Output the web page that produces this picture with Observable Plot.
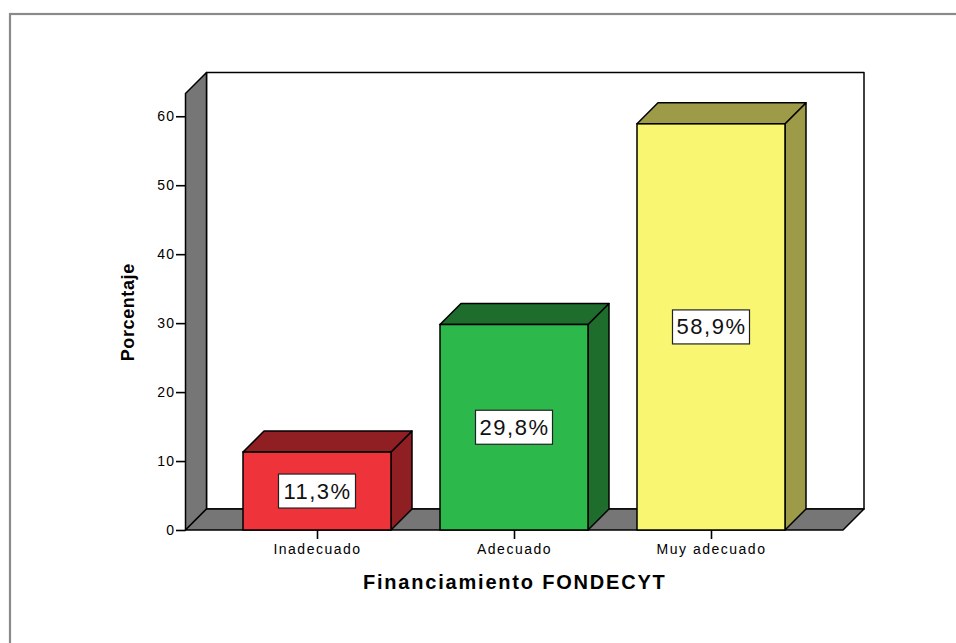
<!DOCTYPE html>
<html><head><meta charset="utf-8">
<script src="https://cdn.jsdelivr.net/npm/d3@7"></script>
<script src="https://cdn.jsdelivr.net/npm/@observablehq/plot@0.6"></script>
<style>
html,body{margin:0;padding:0;background:#fff;}
#chart svg{display:block;}
</style></head><body><div id="chart"></div>
<script>
// ---- data ----
const categories = ["Inadecuado", "Adecuado", "Muy adecuado"];
const percentages = [11.3, 29.8, 58.9];
const valueLabels = ["11,3%", "29,8%", "58,9%"];
const yTicks = [0, 10, 20, 30, 40, 50, 60];
const yMax = 63.3;
const frontColors = ["#EF333A", "#2DB84B", "#F9F672"];
const shadeColors = ["#8F1F22", "#1E6D2D", "#9D9B48"];
const xTitle = "Financiamiento FONDECYT";
const yTitle = "Porcentaje";

const data = categories.map((c, i) => ({
  category: c, value: percentages[i], label: valueLabels[i],
  front: frontColors[i], shade: shadeColors[i]
}));

const DEPTH = 21;
const FONT = "'Liberation Sans', Arial, Helvetica, sans-serif";

function poly(g, pts, fill, sw = 1.5) {
  g.append("polygon")
    .attr("points", pts.map(p => p.join(",")).join(" "))
    .attr("fill", fill).attr("stroke", "#000")
    .attr("stroke-width", sw).attr("stroke-linejoin", "round");
}

// outer frame of the output
const outerFrame = (index, scales, values, dims) => {
  const g = d3.create("svg:g");
  g.append("rect").attr("x", 10).attr("y", 14)
    .attr("width", dims.width + 20).attr("height", dims.height + 20)
    .attr("fill", "none").attr("stroke", "#8a8a8a").attr("stroke-width", 2.2);
  return g.node();
};

// back wall, left wall and floor
const walls = (index, scales, values, dims) => {
  const g = d3.create("svg:g");
  const left = dims.marginLeft, right = dims.width - dims.marginRight;
  const y0 = scales.y(0), yT = scales.y(yMax);
  const D = DEPTH;
  poly(g, [[left + D, yT - D], [right + D, yT - D], [right + D, y0 - D], [left + D, y0 - D]], "#fff");
  poly(g, [[left, y0], [left, yT], [left + D, yT - D], [left + D, y0 - D]], "#767676");
  poly(g, [[left, y0], [right, y0], [right + D, y0 - D], [left + D, y0 - D]], "#767676");
  return g.node();
};

// top and side faces of the bars
const barDepth = (index, scales, values, dims) => {
  const g = d3.create("svg:g");
  const bw = scales.x.bandwidth();
  const y0 = scales.y(0);
  const D = DEPTH;
  data.forEach(d => {
    const x0 = scales.x(d.category), x1 = x0 + bw, yv = scales.y(d.value);
    poly(g, [[x1, y0], [x1, yv], [x1 + D, yv - D], [x1 + D, y0 - D]], d.shade);
    poly(g, [[x0, yv], [x1, yv], [x1 + D, yv - D], [x0 + D, yv - D]], d.shade);
  });
  return g.node();
};

// white boxes behind the value labels
const labelBoxes = (index, scales, values, dims) => {
  const g = d3.create("svg:g");
  const bw = scales.x.bandwidth();
  const W = 77, H = 34;
  data.forEach(d => {
    const cx = scales.x(d.category) + bw / 2, cy = scales.y(d.value / 2);
    g.append("rect").attr("x", cx - W / 2).attr("y", cy - H / 2)
      .attr("width", W).attr("height", H)
      .attr("fill", "#fff").attr("stroke", "#222").attr("stroke-width", 1.2);
  });
  return g.node();
};

const chart = Plot.plot({
  width: 956,
  height: 643,
  marginLeft: 185.5,
  marginRight: 113,
  marginTop: 93.5,
  marginBottom: 113,
  style: {fontFamily: FONT, color: "#000", background: "#fff"},
  x: {type: "band", domain: categories, paddingInner: 0.25, paddingOuter: 0.29},
  y: {domain: [0, yMax]},
  marks: [
    outerFrame,
    walls,
    barDepth,
    Plot.barY(data, {x: "category", y: "value", fill: d => d.front, stroke: "#000", strokeWidth: 1.5}),
    labelBoxes,
    Plot.text(data, {x: "category", y: d => d.value / 2, text: "label", fontSize: 22, fill: "#111"}),
    Plot.axisY({ticks: yTicks, tickSize: 9.5, tickPadding: 1, label: null, fontSize: 14, strokeWidth: 1.6}),
    Plot.axisX({tickSize: 9, tickPadding: 5, label: null, fontSize: 14, strokeWidth: 1.6}),
    Plot.text([xTitle], {frameAnchor: "bottom", dy: 52, fontSize: 20, fontWeight: "bold", lineAnchor: "middle"}),
    Plot.text([yTitle], {frameAnchor: "left", dx: -58, rotate: -90, textAnchor: "middle", fontSize: 18, fontWeight: "bold", lineAnchor: "middle"})
  ]
});

// typographic touches (font size / letter spacing) applied to the rendered text
d3.select(chart).selectAll("text").each(function () {
  const t = this.textContent;
  const el = d3.select(this);
  const parentLabel = (this.closest("g[aria-label]") || {getAttribute: () => ""}).getAttribute("aria-label") || "";
  if (valueLabels.includes(t)) {
    el.style("font-size", "22px").style("letter-spacing", "1.5px");
  } else if (t === xTitle) {
    el.style("font-size", "20px").style("letter-spacing", "1.8px");
  } else if (t === yTitle) {
    el.style("font-size", "18px").style("letter-spacing", "0.6px");
  } else if (categories.includes(t) || /x-axis/.test(parentLabel)) {
    el.style("font-size", "14px").style("letter-spacing", "1.5px");
  } else if (/y-axis/.test(parentLabel) || yTicks.map(String).includes(t)) {
    el.style("font-size", "14px").style("letter-spacing", "1.4px");
  }
});

document.getElementById("chart").appendChild(chart);
</script>
</body></html>
